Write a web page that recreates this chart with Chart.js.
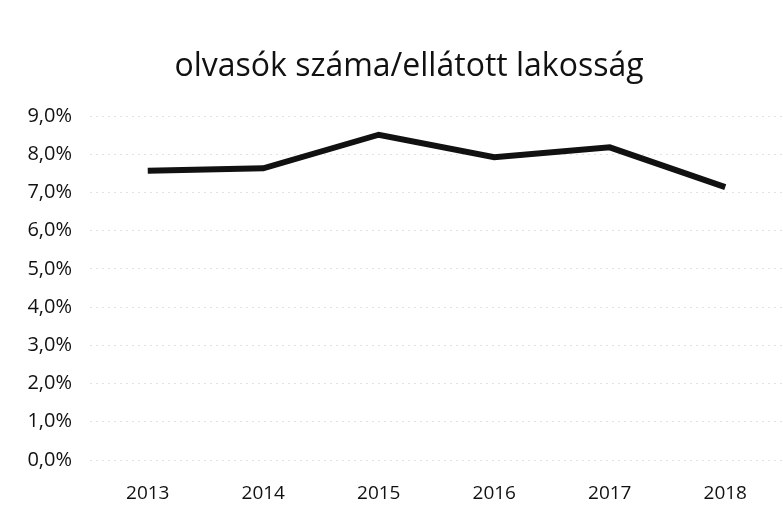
<!DOCTYPE html>
<html>
<head>
<meta charset="utf-8">
<script src="https://cdn.jsdelivr.net/npm/chart.js@4/dist/chart.umd.min.js"></script>
<style>
html,body{margin:0;padding:0;background:#fff;}
#wrap{width:783px;height:514px;}
</style>
</head>
<body>
<div id="wrap"><canvas id="c" width="783" height="514"></canvas></div>
<script>
const categories = ["2013","2014","2015","2016","2017","2018"];
const values = [7.57, 7.63, 8.51, 7.92, 8.18, 7.14];
const titleText = "olvasók száma/ellátott lakosság";

const titlePlugin = {
  id: 'offsetTitle',
  afterDraw(chart) {
    const ctx = chart.ctx;
    ctx.save();
    ctx.font = 'normal 32px "Open Sans"';
    ctx.fillStyle = '#111';
    ctx.textAlign = 'center';
    ctx.textBaseline = 'middle';
    ctx.fillText(titleText, 409, 67);
    ctx.restore();
  }
};

new Chart(document.getElementById('c'), {
  type: 'line',
  data: {
    labels: categories,
    datasets: [{
      data: values,
      borderColor: '#111',
      borderWidth: 6,
      pointRadius: 0,
      tension: 0,
      fill: false
    }]
  },
  options: {
    responsive: false,
    animation: false,
    layout: { padding: { left: 0, right: 0, top: 116, bottom: 0 } },
    plugins: {
      legend: { display: false },
      tooltip: { enabled: false },
      title: { display: false }
    },
    scales: {
      x: {
        offset: true,
        grid: { display: false },
        border: { display: false },
        ticks: { color: '#111', font: { family: 'Open Sans', size: 19 }, padding: 14 },
        afterFit: s => { s.height = 54; }
      },
      y: {
        min: 0, max: 9,
        grid: { color: '#e2e2e2', lineWidth: 1, drawTicks: false },
        border: { display: false, dash: [2, 4] },
        ticks: {
          stepSize: 1,
          color: '#111',
          padding: 18,
          font: { family: 'Open Sans', size: 20 },
          callback: v => v.toFixed(1).replace('.', ',') + '%'
        },
        afterFit: s => { s.width = 90; }
      }
    }
  },
  plugins: [titlePlugin]
});
</script>
</body>
</html>
